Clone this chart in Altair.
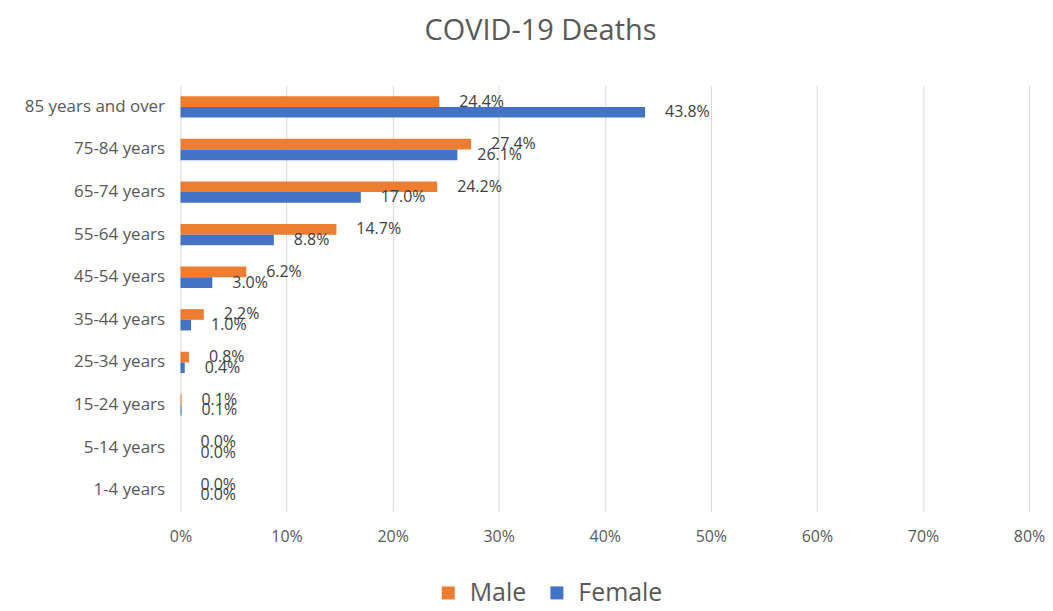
import altair as alt
import pandas as pd

categories = ["85 years and over", "75-84 years", "65-74 years", "55-64 years",
              "45-54 years", "35-44 years", "25-34 years", "15-24 years",
              "5-14 years", "1-4 years"]
male = [24.4, 27.4, 24.2, 14.7, 6.2, 2.2, 0.8, 0.1, 0.0, 0.0]
female = [43.8, 26.1, 17.0, 8.8, 3.0, 1.0, 0.4, 0.1, 0.0, 0.0]
series = ["Male", "Female"]
colors = ["#ED7D31", "#4472C4"]

rows = []
for c, m, f in zip(categories, male, female):
    rows.append({"age": c, "sex": "Male", "value": m})
    rows.append({"age": c, "sex": "Female", "value": f})
df = pd.DataFrame(rows)

FONT = "Open Sans"

base = alt.Chart(df).encode(
    y=alt.Y("age:N", sort=categories, title=None,
            scale=alt.Scale(paddingInner=0.5, paddingOuter=0.25),
            axis=alt.Axis(ticks=False, domain=False, grid=False, labelPadding=16,
                          labelFontSize=17, labelColor="#595959", labelFont=FONT)),
    yOffset=alt.YOffset("sex:N", sort=series, scale=alt.Scale(paddingInner=0, paddingOuter=0)),
    x=alt.X("value:Q", title=None,
            scale=alt.Scale(domain=[0, 80]),
            axis=alt.Axis(values=[0, 10, 20, 30, 40, 50, 60, 70, 80],
                          labelExpr="datum.value + '%'", ticks=False, domain=False,
                          grid=True, gridColor="#d9d9d9", gridWidth=1,
                          labelFontSize=16, labelColor="#595959", labelFont=FONT,
                          labelFlush=False, labelPadding=17)),
)

bars = base.mark_bar().encode(
    color=alt.Color("sex:N", sort=series,
                    scale=alt.Scale(domain=series, range=colors),
                    legend=alt.Legend(title=None, orient="none", direction="horizontal",
                                      legendX=256, legendY=496,
                                      symbolType="square", symbolSize=170,
                                      symbolStrokeWidth=0, labelFontSize=25,
                                      labelFont=FONT, labelColor="#595959",
                                      labelOffset=9, columnPadding=18))
)

labels = base.mark_text(align="left", baseline="middle", dx=20, fontSize=16,
                        font=FONT, color="#404040").encode(
    text="label:N"
).transform_calculate(label="format(datum.value, '.1f') + '%'")

chart = alt.layer(bars, labels).properties(
    width=851, height=427,
    padding={"left": 16, "top": 8, "right": 0, "bottom": 0},
    title=alt.TitleParams("COVID-19 Deaths", fontSize=29, font=FONT, color="#595959",
                          fontWeight="normal", anchor="middle", frame="bounds",
                          offset=40, dx=6)
).configure_view(stroke=None)

chart.save("out.html", embed_options={"renderer": "svg", "actions": False})
